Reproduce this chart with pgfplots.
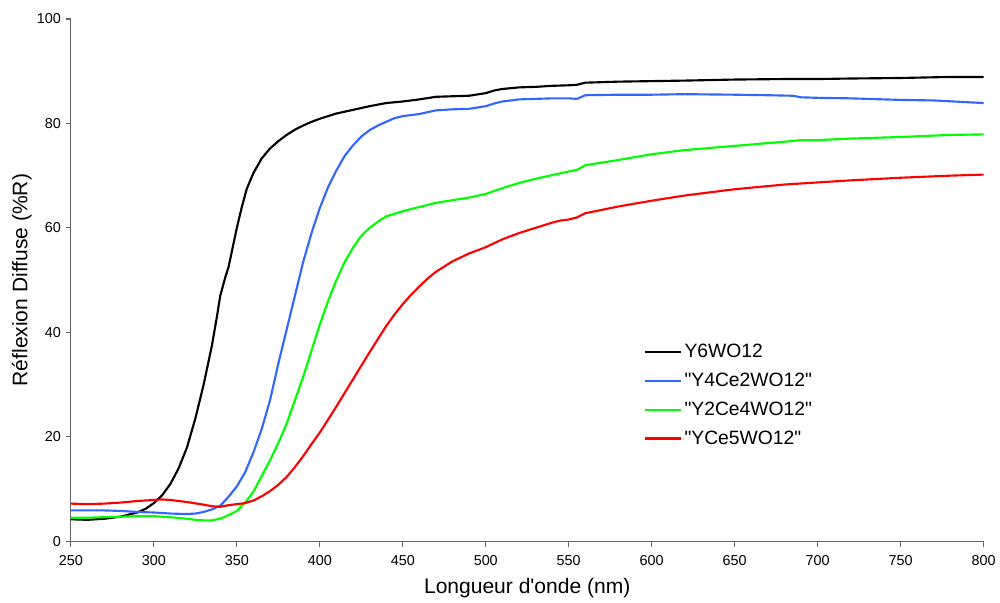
\documentclass[border=0pt]{standalone}
\usepackage{fontspec}
\setmainfont{Liberation Sans}[Ligatures=TeXOff]
\usepackage{pgfplots}
\pgfplotsset{compat=1.18}
\definecolor{cblue}{RGB}{51,102,255}
\definecolor{cgreen}{RGB}{0,255,0}
\definecolor{cred}{RGB}{255,0,0}
\definecolor{axgray}{RGB}{100,100,100}
\begin{document}
\begin{tikzpicture}
\begin{axis}[
  scale only axis,
  width=685.5pt, height=392.25pt,
  xmin=250, xmax=800, ymin=0, ymax=100,
  xtick={250,300,...,800}, ytick={0,20,...,100},
  axis x line*=bottom, axis y line*=left,
  axis line style={axgray, line width=0.8pt},
  tick style={axgray, line width=0.8pt},
  tick align=outside,
  major tick length=4pt,
  minor tick num=0,
  /pgf/number format/assume math mode=true,
  /pgf/number format/1000 sep={},
  ticklabel style={font=\fontsize{10.8}{12}\selectfont},
  xticklabel style={yshift=-3pt},
  xlabel={Longueur d'onde (nm)},
  ylabel={Réflexion Diffuse (\%R)},
  label style={font=\fontsize{15.8}{17}\selectfont},
  xlabel style={yshift=-3pt},
  ylabel style={yshift=-3pt},
  clip=false,
  legend cell align=left,
  legend style={at={(0.626,0.385)}, anchor=north west, draw=none, fill=none,
    font=\fontsize{14.5}{16}\selectfont, row sep=6pt, inner sep=1pt},
  legend image code/.code={\draw[#1] (0pt,0pt) -- (25pt,0pt); \path (0pt,0pt) -- (27pt,0pt);},
  every axis plot/.append style={line width=1.6pt, line join=round},
]
\addplot[black] coordinates {
(250,4.2)(260,4.1)(270,4.3)(280,4.7)(290,5.5)(295,6.2)(300,7.3)(305,8.8)(310,11.0)(315,14.0)(320,18.0)(325,23.5)(330,30.0)(335,37.5)(338,43.0)(340,47.0)(343,50.5)(345,52.5)(348,57.0)(350,60.0)(353,64.0)(356,67.5)(360,70.5)(365,73.3)(370,75.2)(375,76.6)(380,77.8)(385,78.8)(390,79.6)(395,80.3)(400,80.9)(410,81.9)(420,82.6)(430,83.3)(440,83.9)(450,84.2)(460,84.6)(470,85.1)(480,85.2)(490,85.3)(500,85.8)(505,86.3)(510,86.6)(520,86.9)(530,87.0)(540,87.2)(550,87.3)(555,87.4)(560,87.8)(580,88.0)(600,88.1)(620,88.2)(650,88.4)(680,88.5)(700,88.5)(720,88.6)(750,88.7)(780,88.9)(800,88.9)
};
\addlegendentry{Y6WO12}
\addplot[cblue] coordinates {
(250,5.9)(260,5.9)(270,5.9)(280,5.8)(290,5.6)(300,5.5)(310,5.3)(320,5.2)(325,5.3)(330,5.6)(335,6.1)(340,6.8)(345,8.5)(350,10.5)(355,13.2)(360,17.0)(365,21.5)(370,27.0)(375,34.0)(380,40.5)(385,47.0)(390,53.5)(395,59.0)(400,63.8)(405,67.8)(410,71.0)(415,73.8)(420,75.8)(425,77.5)(430,78.7)(435,79.6)(440,80.3)(445,81.0)(450,81.4)(460,81.8)(470,82.5)(480,82.7)(490,82.8)(500,83.3)(505,83.8)(510,84.2)(520,84.6)(530,84.7)(540,84.8)(550,84.8)(555,84.7)(560,85.4)(580,85.5)(600,85.5)(620,85.6)(650,85.5)(670,85.4)(685,85.3)(690,85.0)(700,84.9)(720,84.8)(750,84.5)(770,84.4)(800,83.9)
};
\addlegendentry{"Y4Ce2WO12"}
\addplot[cgreen] coordinates {
(250,4.5)(260,4.5)(270,4.6)(280,4.7)(290,4.8)(300,4.8)(310,4.6)(320,4.3)(325,4.1)(330,4.0)(335,4.0)(340,4.3)(345,5.0)(350,5.8)(355,7.4)(360,9.5)(365,12.5)(370,15.5)(375,18.8)(380,22.5)(385,27.0)(390,31.5)(395,36.5)(400,41.5)(405,46.0)(410,50.0)(415,53.5)(420,56.2)(425,58.5)(430,60.0)(435,61.2)(440,62.2)(450,63.2)(460,64.0)(470,64.8)(480,65.3)(490,65.8)(500,66.5)(510,67.6)(520,68.6)(530,69.4)(540,70.1)(550,70.8)(555,71.1)(560,72.0)(580,73.0)(600,74.1)(620,74.9)(650,75.7)(680,76.5)(690,76.8)(700,76.8)(720,77.1)(750,77.4)(780,77.8)(800,77.9)
};
\addlegendentry{"Y2Ce4WO12"}
\addplot[cred] coordinates {
(250,7.2)(260,7.1)(270,7.2)(280,7.4)(290,7.7)(300,7.9)(305,8.0)(310,7.9)(320,7.5)(330,7.0)(335,6.7)(340,6.6)(345,6.9)(350,7.1)(355,7.3)(360,7.8)(365,8.6)(370,9.6)(375,10.8)(380,12.3)(385,14.2)(390,16.3)(395,18.6)(400,20.8)(405,23.3)(410,25.8)(415,28.4)(420,31.0)(425,33.6)(430,36.2)(435,38.7)(440,41.2)(445,43.4)(450,45.4)(455,47.2)(460,48.8)(465,50.3)(470,51.6)(480,53.6)(490,55.1)(500,56.3)(510,57.8)(520,59.0)(530,60.0)(540,61.0)(545,61.4)(550,61.6)(555,62.0)(560,62.8)(580,64.1)(600,65.2)(620,66.2)(650,67.4)(680,68.3)(690,68.5)(700,68.7)(720,69.1)(750,69.6)(780,70.0)(800,70.2)
};
\addlegendentry{"YCe5WO12"}
\path ([xshift=-53.25pt,yshift=-43.5pt]rel axis cs:0,0) rectangle ([xshift=11.25pt,yshift=14.25pt]rel axis cs:1,1);
\end{axis}
\end{tikzpicture}
\end{document}
